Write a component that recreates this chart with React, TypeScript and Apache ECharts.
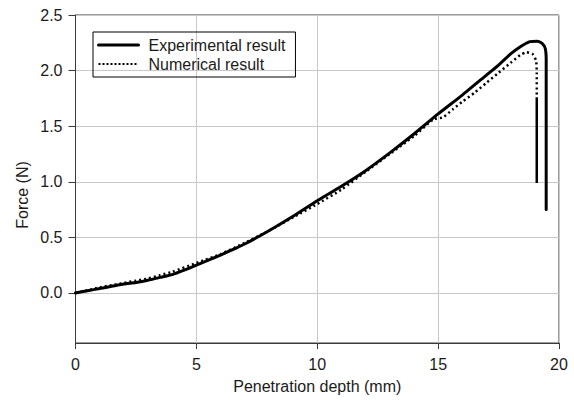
import React, { useEffect, useRef } from "react";
import * as echarts from "echarts";

const expDepth = [0, 0.5, 1, 1.5, 2, 2.5, 3, 3.5, 4, 4.5, 5, 5.5, 6, 6.5, 7, 8, 9, 10, 11, 12, 13, 14, 15, 16, 17, 17.5, 18, 18.4, 18.8, 19.1, 19.3, 19.43, 19.47, 19.47];
const expForce = [0, 0.02, 0.04, 0.06, 0.08, 0.095, 0.115, 0.14, 0.165, 0.205, 0.25, 0.295, 0.34, 0.39, 0.44, 0.56, 0.69, 0.83, 0.96, 1.1, 1.26, 1.43, 1.61, 1.78, 1.96, 2.05, 2.15, 2.215, 2.26, 2.265, 2.245, 2.2, 2.1, 0.75];

const numDepth = [0, 0.5, 1, 1.5, 2, 2.5, 3, 3.5, 4, 5, 6, 7, 8, 9, 10, 11, 12, 13, 14, 14.8, 15.2, 15.6, 16, 16.5, 17, 17.5, 18, 18.4, 18.65, 18.9, 19.05, 19.08, 19.08];
const numForce = [0, 0.025, 0.05, 0.07, 0.09, 0.11, 0.13, 0.16, 0.19, 0.27, 0.35, 0.45, 0.56, 0.68, 0.8, 0.93, 1.09, 1.25, 1.41, 1.56, 1.58, 1.65, 1.72, 1.8, 1.89, 1.98, 2.07, 2.14, 2.165, 2.15, 2.09, 1.98, 1.76];

const numTailDepth = [19.08, 19.08];
const numTailForce = [1.76, 0.99];

const xTicks = [0, 5, 10, 15, 20];
const yTicks = [0, 0.5, 1, 1.5, 2, 2.5];

const zip = (a: number[], b: number[]) => a.map((v, i) => [v, b[i]]);

const FONT = "Liberation Sans, Arial, sans-serif";
const AXIS_COLOR = "#3a3a3a";
const TEXT_COLOR = "#1a1a1a";

export default function App() {
  const ref = useRef<HTMLDivElement>(null);
  useEffect(() => {
    if (!ref.current) return;
    const chart = echarts.init(ref.current, null, { renderer: "svg" });
    chart.setOption({
      animation: false,
      backgroundColor: "#fff",
      textStyle: { fontFamily: FONT },
      grid: {
        left: 75.5,
        right: 15,
        top: 15,
        bottom: 57,
        show: true,
        borderColor: AXIS_COLOR,
        borderWidth: 1,
      },
      legend: {
        orient: "vertical",
        left: 93,
        top: 32,
        borderColor: "#000",
        borderWidth: 1,
        padding: [5, 10, 5, 4],
        itemGap: 3,
        itemWidth: 40,
        itemHeight: 16,
        itemStyle: { color: "rgba(0,0,0,0)", borderWidth: 0, opacity: 0 },
        textStyle: { fontFamily: FONT, fontSize: 16, color: TEXT_COLOR, padding: [0, 0, 0, 5] },
        data: [
          { name: "Experimental result", lineStyle: { width: 3, type: "solid", color: "#000" } },
          { name: "Numerical result", lineStyle: { width: 2, type: [2, 2], color: "#000" } },
        ],
      },
      xAxis: {
        type: "value",
        min: 0,
        max: 20,
        interval: 5,
        name: "Penetration depth (mm)",
        nameLocation: "middle",
        nameGap: 35,
        nameTextStyle: { fontFamily: FONT, fontSize: 16, color: TEXT_COLOR },
        axisLine: { show: true, onZero: false, lineStyle: { color: AXIS_COLOR, width: 1 } },
        axisTick: { show: true, inside: false, length: 6, lineStyle: { color: AXIS_COLOR }, customValues: xTicks },
        axisLabel: { customValues: xTicks, margin: 13, fontFamily: FONT, fontSize: 16, color: TEXT_COLOR },
        splitLine: { show: true, lineStyle: { color: "#c8c8c8", width: 1 } },
      },
      yAxis: {
        type: "value",
        min: -0.45,
        max: 2.5,
        axisLine: { show: true, onZero: false, lineStyle: { color: AXIS_COLOR, width: 1 } },
        axisTick: { show: true, inside: false, length: 7, lineStyle: { color: AXIS_COLOR }, customValues: yTicks },
        axisLabel: {
          customValues: yTicks,
          margin: 13,
          fontFamily: FONT,
          fontSize: 16,
          color: TEXT_COLOR,
          formatter: (v: number) => v.toFixed(1),
        },
        splitLine: { show: true, lineStyle: { color: "#c8c8c8", width: 1 } },
      },
      graphic: [
        {
          type: "text",
          x: 22,
          y: 195,
          rotation: Math.PI / 2,
          style: {
            text: "Force (N)",
            fontFamily: FONT,
            fontSize: 16,
            fill: TEXT_COLOR,
            align: "center",
            verticalAlign: "middle",
          },
        },
      ],
      series: [
        {
          name: "Experimental result",
          type: "line",
          data: zip(expDepth, expForce),
          showSymbol: false,
          symbol: "none",
          smooth: 0.2,
          lineStyle: { color: "#000", width: 3, join: "round", cap: "round" },
          itemStyle: { color: "#000" },
          z: 3,
        },
        {
          name: "Numerical result",
          type: "line",
          data: zip(numDepth, numForce),
          showSymbol: false,
          symbol: "none",
          smooth: 0.2,
          lineStyle: { color: "#000", width: 2.5, type: [2, 3] },
          itemStyle: { color: "#000" },
          z: 4,
        },
        {
          name: "Numerical tail",
          type: "line",
          data: zip(numTailDepth, numTailForce),
          showSymbol: false,
          symbol: "none",
          lineStyle: { color: "#000", width: 2.5 },
          itemStyle: { color: "#000" },
          z: 4,
        },
      ],
    });
    return () => chart.dispose();
  }, []);
  return <div ref={ref} style={{ width: 574, height: 400, position: "absolute", left: 0, top: 0 }} />;
}
